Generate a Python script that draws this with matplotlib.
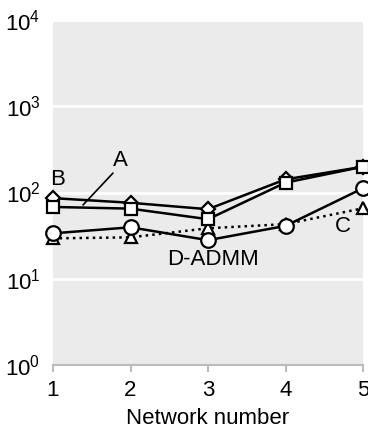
import matplotlib
matplotlib.use("Agg")
import matplotlib.pyplot as plt

plt.rcParams['font.family'] = ['Liberation Sans', 'DejaVu Sans']
plt.rcParams['mathtext.fontset'] = 'custom'
plt.rcParams['mathtext.rm'] = 'Liberation Sans'
plt.rcParams['mathtext.it'] = 'Liberation Sans'
plt.rcParams['mathtext.default'] = 'regular'

network = [1, 2, 3, 4, 5]
series_B = [86, 76, 64, 142, 199]      # diamonds
series_A = [68, 65, 49, 130, 199]      # squares
series_DADMM = [33.6, 39.5, 28, 41, 112]  # circles
series_C = [29.4, 30.2, 38.5, 43, 65.6]   # triangles, dotted
xticks = [1, 2, 3, 4, 5]
yticks = [1, 10, 100, 1000, 10000]
ytick_labels = ['$10^{0}$', '$10^{1}$', '$10^{2}$', '$10^{3}$', '$10^{4}$']

fig = plt.figure(figsize=(3.68, 4.29), dpi=100)
ax = fig.add_axes([53/368, 1-365/429, 310/368, 345/429])
ax.set_facecolor('#EBEBEB')
ax.set_yscale('log')
ax.set_xlim(1, 5)
ax.set_ylim(1, 10000)

common = dict(color='black', lw=1.8, markerfacecolor='white', markeredgecolor='black',
              markeredgewidth=1.6, clip_on=False, zorder=3)
ax.plot(network, series_C, ls=':', marker='^', markersize=8, **common)
ax.plot(network, series_B, ls='-', marker='D', markersize=7, **common)
ax.plot(network, series_A, ls='-', marker='s', markersize=8.5, **common)
ax.plot(network, series_DADMM, ls='-', marker='o', markersize=10.5, **common)

ax.set_yticks(yticks)
ax.set_yticklabels(ytick_labels)
ax.yaxis.set_minor_locator(matplotlib.ticker.NullLocator())
ax.set_xticks(xticks)
ax.grid(axis='y', which='major', color='white', lw=2)
ax.set_axisbelow(True)
for s in ['top', 'right', 'left']:
    ax.spines[s].set_visible(False)
ax.spines['bottom'].set_color('#BBBBBB')
ax.spines['bottom'].set_linewidth(1.5)
ax.tick_params(axis='y', length=0, labelsize=16, pad=9)
ax.tick_params(axis='x', length=5, width=1.5, color='#BBBBBB', labelsize=16, pad=5.5)
ax.set_xlabel('Network number', fontsize=16, labelpad=5)

ax.text(1.06, 140, 'B', fontsize=16, ha='center', va='center')
ax.text(1.865, 238, 'A', fontsize=16, ha='center', va='center')
ax.annotate('', xy=(1.387, 71.6), xytext=(1.774, 168),
            arrowprops=dict(arrowstyle='-', color='black', lw=1.2, shrinkA=0, shrinkB=0))
ax.text(3.07, 16.5, 'D-ADMM', fontsize=16, ha='center', va='center')
ax.text(4.74, 40, 'C', fontsize=16, ha='center', va='center')

fig.savefig('out.png', dpi=100)
